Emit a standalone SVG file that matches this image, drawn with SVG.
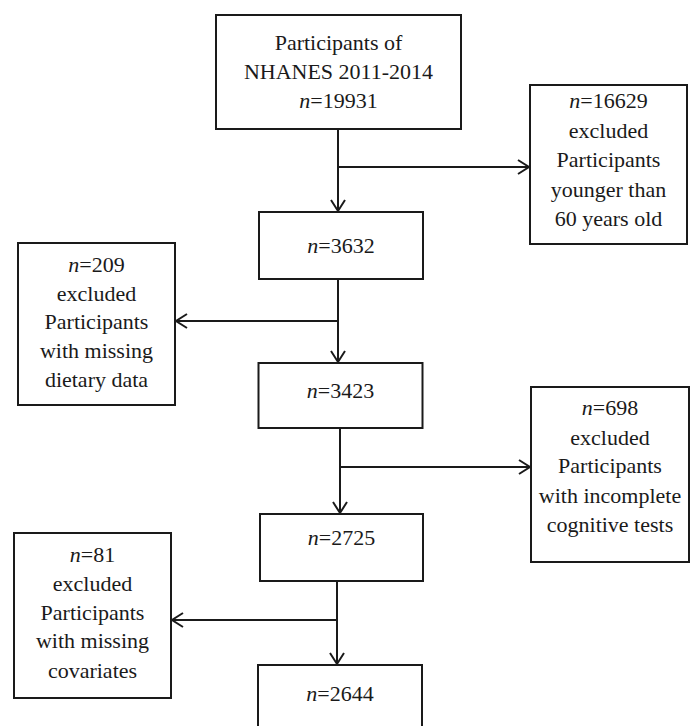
<svg xmlns="http://www.w3.org/2000/svg" width="692" height="726" viewBox="0 0 692 726">
<style>
.box{fill:#fff;stroke:#1a1a1a;stroke-width:2}
.ln{fill:none;stroke:#1a1a1a;stroke-width:2}
text{font-family:'Liberation Serif','Times New Roman',serif;font-size:22px;fill:#1a1a1a;text-anchor:middle}
.i{font-style:italic}
</style>
<defs>
<marker id="arr" viewBox="0 0 16 16" refX="14" refY="8" markerWidth="16" markerHeight="16" markerUnits="userSpaceOnUse" orient="auto">
<path d="M3,1 L14,8 L3,15" fill="none" stroke="#1a1a1a" stroke-width="2"/>
</marker>
</defs>
<rect width="692" height="726" fill="#fff"/>
<g id="connectors">
<line class="ln" x1="338" y1="129" x2="338" y2="211" marker-end="url(#arr)"/>
<line class="ln" x1="338" y1="167" x2="529" y2="167" marker-end="url(#arr)"/>
<line class="ln" x1="338" y1="279" x2="338" y2="362" marker-end="url(#arr)"/>
<line class="ln" x1="338" y1="321" x2="176" y2="321" marker-end="url(#arr)"/>
<line class="ln" x1="340" y1="428" x2="340" y2="513" marker-end="url(#arr)"/>
<line class="ln" x1="340" y1="467" x2="530" y2="467" marker-end="url(#arr)"/>
<line class="ln" x1="337" y1="581" x2="337" y2="664" marker-end="url(#arr)"/>
<line class="ln" x1="337" y1="620" x2="172" y2="620" marker-end="url(#arr)"/>
</g>
<g id="n19931">
<rect class="box" x="216" y="15" width="245" height="114"/>
<text x="338.5" y="50">Participants of</text>
<text x="338.5" y="79">NHANES 2011-2014</text>
<text x="338.5" y="108"><tspan class="i">n</tspan>=19931</text>
</g>
<g id="excl16629">
<rect class="box" x="530" y="85" width="157" height="159"/>
<text x="608.5" y="108"><tspan class="i">n</tspan>=16629</text>
<text x="608.5" y="138">excluded</text>
<text x="608.5" y="167">Participants</text>
<text x="608.5" y="197">younger than</text>
<text x="608.5" y="226">60 years old</text>
</g>
<g id="n3632">
<rect class="box" x="259" y="212" width="164" height="67"/>
<text x="341" y="253"><tspan class="i">n</tspan>=3632</text>
</g>
<g id="excl209">
<rect class="box" x="18" y="243" width="157" height="162"/>
<text x="96.5" y="272"><tspan class="i">n</tspan>=209</text>
<text x="96.5" y="301">excluded</text>
<text x="96.5" y="329">Participants</text>
<text x="96.5" y="358">with missing</text>
<text x="96.5" y="387">dietary data</text>
</g>
<g id="n3423">
<rect class="box" x="258.5" y="363" width="164" height="65"/>
<text x="340.5" y="398"><tspan class="i">n</tspan>=3423</text>
</g>
<g id="excl698">
<rect class="box" x="531" y="387" width="158" height="175"/>
<text x="610" y="415"><tspan class="i">n</tspan>=698</text>
<text x="610" y="445">excluded</text>
<text x="610" y="473">Participants</text>
<text x="610" y="503">with incomplete</text>
<text x="610" y="532">cognitive tests</text>
</g>
<g id="n2725">
<rect class="box" x="260" y="514" width="163" height="67"/>
<text x="341.5" y="545"><tspan class="i">n</tspan>=2725</text>
</g>
<g id="excl81">
<rect class="box" x="14" y="533" width="157" height="165"/>
<text x="92.5" y="562"><tspan class="i">n</tspan>=81</text>
<text x="92.5" y="591">excluded</text>
<text x="92.5" y="620">Participants</text>
<text x="92.5" y="648">with missing</text>
<text x="92.5" y="678">covariates</text>
</g>
<g id="n2644">
<rect class="box" x="258" y="665" width="164" height="75"/>
<text x="340" y="701"><tspan class="i">n</tspan>=2644</text>
</g>
</svg>
